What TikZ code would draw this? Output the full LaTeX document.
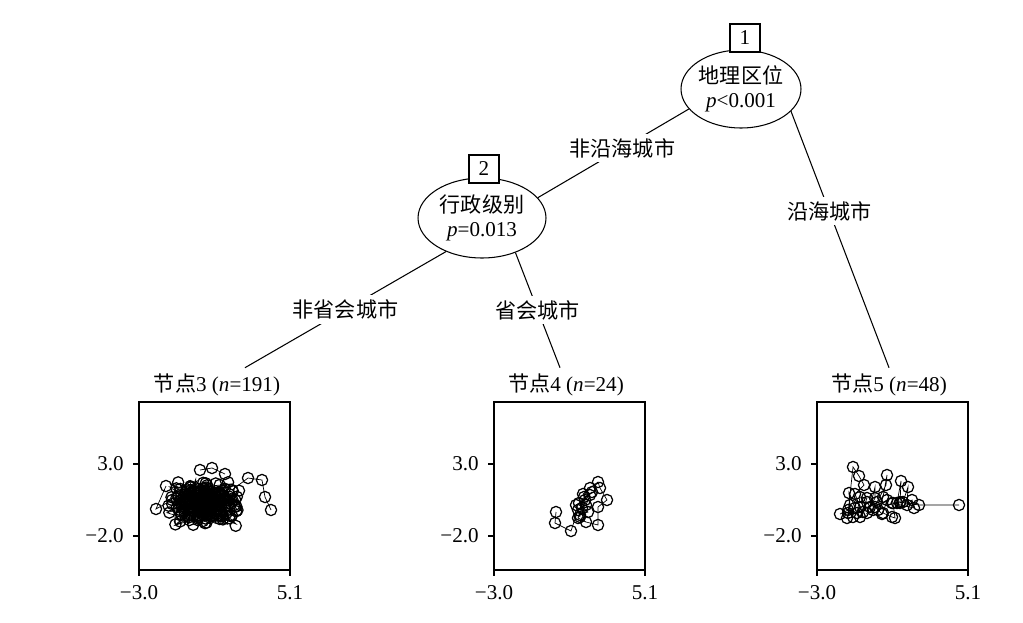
\documentclass[tikz,border=0pt]{standalone}
\usepackage{fontspec}
\setmainfont{Liberation Serif}
\newfontfamily\cjk{Noto Sans CJK SC}
\usepackage{tikz}
\usetikzlibrary{shapes.geometric,positioning,plotmarks}

\begin{document}
\begin{tikzpicture}
	[x=0.02cm,y=-0.02cm,font=\fontsize{12}{13.5}\selectfont,
	split/.style={ellipse,draw=black,line width=0.6pt,
		inner sep=0pt,align=center,minimum width=2.4cm,minimum height=1.56cm},
	num/.style={rectangle,draw=black,fill=white,line width=0.6pt,
		inner sep=0pt,minimum width=0.6cm,minimum height=0.56cm},
	lbl/.style={fill=white,inner sep=2.5pt},
	rama/.style={black,line width=0.6pt},
	marca/.style={black,line width=0.35pt,mark=o,mark size=3.2pt,
		mark options={line width=0.7pt}}]
	\useasboundingbox (0,0) rectangle (1023,622);

	%nodosinternos
	\node (n1) at (741,89) [split] {{\cjk 地理区位}\\\textit{p}<0.001};
	\node (n2) at (482,218) [split,minimum width=2.56cm,minimum height=1.6cm] {{\cjk 行政级别}\\\textit{p}=0.013};
	\node (b1) at (745,38) [num] {1};
	\node (b2) at (484,169) [num] {2};

	%nodosterminales
	\node (t3) at (217,385) {{\cjk 节点}3 (\textit{n}=191)};
	\node (t4) at (566,385) {{\cjk 节点}4 (\textit{n}=24)};
	\node (t5) at (889,385) {{\cjk 节点}5 (\textit{n}=48)};

	%ramas
	\draw[rama] (n1.201) -- node[lbl,pos=0.44] {\cjk 非沿海城市} (n2.20);
	\draw[rama] (n1.-24) -- node[lbl,pos=0.39] {\cjk 沿海城市} (t5.north);
	\draw[rama] (n2.223) -- node[lbl,pos=0.5] {\cjk 非省会城市} ([xshift=0.56cm]t3.north);
	\draw[rama] (n2.-46) -- node[lbl,pos=0.5] {\cjk 省会城市} ([xshift=-0.12cm]t4.north);

	%paneles
	\foreach \px in {139,494,817}{
		\draw[rama] (\px,402) rectangle ++(151,168);
		\draw[rama] (\px,464) -- ++(-6,0) node[left,inner sep=5pt] {3.0};
		\draw[rama] (\px,536) -- ++(-6,0) node[left,inner sep=5pt] {−2.0};
		\draw[rama] (\px,570) -- ++(0,6) node[below,inner sep=5pt] {−3.0};
		\draw[rama] (\px+151,570) -- ++(0,6) node[below,inner sep=5pt] {5.1};
	}

	%datos
	\pgfmathsetseed{191}
	\draw plot[marca,samples=170,domain=0:1] ({205+20*(rand+rand)},{503+13*(rand+rand)});
	\draw plot[marca,samples=60,domain=0:1] ({207+12*(rand+rand)},{503+8*(rand+rand)});
	\draw plot[marca] coordinates {(166,486) (156,509) (172,500)};
	\draw plot[marca] coordinates {(200,470) (212,468) (225,474)};
	\draw plot[marca] coordinates {(232,490) (248,478) (262,480) (265,497) (271,510)};
	\draw plot[marca] coordinates {(556,512) (555,523) (571,531) (578,510) (580,517) (576,505)
		(585,500) (583,494) (590,488) (598,482) (600,488) (607,500) (598,507) (598,525)
		(586,522) (578,518) (582,508) (586,505) (590,495) (584,497) (580,515) (588,512)
		(579,503) (592,492)};
	\draw plot[marca] coordinates {(840,514) (848,510) (853,517) (847,518) (850,505) (849,493)
		(855,508) (848,513) (853,467) (859,476) (864,485) (855,494) (860,507) (857,513)
		(860,497) (867,498) (860,517) (863,512) (867,502) (870,507) (875,487) (875,498)
		(867,513) (873,510) (877,502) (886,485) (887,475) (883,497) (878,510) (882,514)
		(875,507) (887,500) (883,513) (892,517) (895,518) (893,503) (897,503) (901,481)
		(900,503) (903,502) (908,487) (907,505) (912,500) (914,508) (892,503) (900,502)
		(919,505) (959,505)};
\end{tikzpicture}
\end{document}
